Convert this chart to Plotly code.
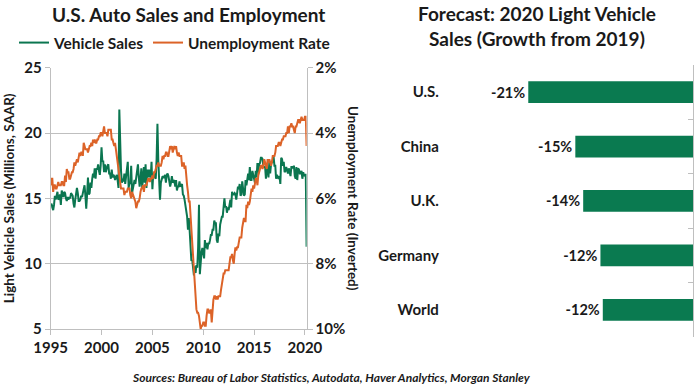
import pandas as pd
import plotly.graph_objects as go

# ---------------- data ----------------
vehicle_sales = [
    14.4, 14.6, 14.3, 14.1, 14.5, 15.2, 14.9, 15.2, 15.5, 14.9, 15.0, 15.3,  # 1995
    14.5, 15.6, 15.2, 15.1, 15.5, 15.4, 15.0, 14.8, 15.1, 14.9, 15.1, 15.0,  # 1996
    15.4, 15.3, 15.2, 14.6, 14.3, 14.9, 15.4, 15.8, 15.4, 14.8, 14.8, 14.9,  # 1997
    15.2, 15.1, 15.4, 15.7, 16.0, 15.2, 14.2, 15.3, 16.6, 15.3, 15.4, 16.2,  # 1998
    15.8, 16.5, 16.9, 16.6, 17.3, 16.5, 17.3, 17.2, 17.6, 17.1, 16.8, 17.5,  # 1999
    18.9, 17.8, 17.9, 17.0, 17.6, 17.0, 17.3, 17.5, 17.6, 16.9, 16.9, 16.5,  # 2000
    17.2, 16.6, 16.8, 16.7, 16.4, 16.6, 16.8, 16.4, 15.8, 21.8, 18.2, 17.1,  # 2001
    16.2, 16.5, 16.3, 16.9, 16.1, 16.8, 17.7, 17.8, 15.8, 16.2, 16.1, 17.5,  # 2002
    15.4, 15.8, 16.1, 16.4, 16.1, 16.5, 17.1, 17.6, 16.6, 15.9, 16.5, 17.3,  # 2003
    15.8, 16.6, 17.4, 16.2, 17.6, 15.8, 17.2, 16.6, 17.2, 16.7, 16.6, 17.8,  # 2004
    15.7, 16.9, 16.8, 16.6, 16.5, 18.0, 20.7, 17.9, 15.3, 14.9, 16.2, 16.4,  # 2005
    16.7, 16.6, 16.6, 16.8, 16.2, 16.8, 16.9, 16.7, 16.1, 15.9, 16.2, 16.7,  # 2006
    16.2, 16.4, 16.4, 15.9, 16.4, 15.6, 15.9, 15.9, 16.3, 15.9, 16.0, 16.1,  # 2007
    15.3, 15.2, 14.9, 14.5, 14.2, 13.6, 12.6, 13.5, 12.5, 10.7, 10.2, 10.3,  # 2008
    9.6, 9.1, 9.8, 9.3, 9.9, 9.7, 11.2, 14.5, 9.2, 10.4, 10.9, 11.2,        # 2009
    10.9, 10.4, 11.8, 11.2, 11.6, 11.1, 11.6, 11.5, 11.8, 12.2, 12.2, 12.6,  # 2010
    12.6, 13.3, 13.1, 13.1, 11.8, 11.6, 12.3, 12.1, 13.0, 13.3, 13.6, 13.6,  # 2011
    14.1, 15.0, 14.3, 14.4, 13.9, 14.3, 14.1, 14.5, 14.9, 14.3, 15.5, 15.3,  # 2012
    15.3, 15.4, 15.3, 14.9, 15.4, 15.9, 15.7, 16.1, 15.2, 15.3, 16.3, 15.4,  # 2013
    15.2, 15.3, 16.4, 16.0, 16.7, 16.9, 16.4, 17.4, 16.4, 16.4, 17.1, 16.8,  # 2014
    16.7, 16.2, 17.1, 16.6, 17.7, 17.0, 17.6, 17.7, 18.1, 18.1, 18.0, 17.4,  # 2015
    17.4, 17.4, 16.5, 17.3, 17.3, 16.6, 17.8, 16.9, 17.6, 17.8, 17.8, 18.2,  # 2016
    17.5, 17.5, 16.5, 16.8, 16.6, 16.5, 16.7, 16.1, 18.1, 18.0, 17.5, 17.8,  # 2017
    17.0, 17.1, 17.4, 17.1, 16.9, 17.3, 16.8, 16.7, 17.4, 17.4, 17.3, 17.5,  # 2018
    16.7, 16.5, 17.4, 16.4, 17.3, 17.2, 16.9, 16.9, 17.1, 16.5, 17.0, 16.7,  # 2019
    16.8, 16.8, 11.3,                                                        # 2020
]

unemployment_rate = [
    5.6, 5.4, 5.4, 5.8, 5.6, 5.6, 5.7, 5.7, 5.6, 5.5, 5.6, 5.6,  # 1995
    5.6, 5.5, 5.5, 5.6, 5.6, 5.3, 5.5, 5.1, 5.2, 5.2, 5.4, 5.4,  # 1996
    5.3, 5.2, 5.2, 5.1, 4.9, 5.0, 4.9, 4.8, 4.9, 4.7, 4.6, 4.7,  # 1997
    4.6, 4.6, 4.7, 4.3, 4.4, 4.5, 4.5, 4.5, 4.6, 4.5, 4.4, 4.4,  # 1998
    4.3, 4.4, 4.2, 4.3, 4.2, 4.3, 4.3, 4.2, 4.2, 4.1, 4.1, 4.0,  # 1999
    4.0, 4.1, 4.0, 3.8, 4.0, 4.0, 4.0, 4.1, 3.9, 3.9, 3.9, 3.9,  # 2000
    4.2, 4.2, 4.3, 4.4, 4.3, 4.5, 4.6, 4.9, 5.0, 5.3, 5.5, 5.7,  # 2001
    5.7, 5.7, 5.7, 5.9, 5.8, 5.8, 5.8, 5.7, 5.7, 5.7, 5.9, 6.0,  # 2002
    5.8, 5.9, 5.9, 6.0, 6.1, 6.3, 6.2, 6.1, 6.1, 6.0, 5.8, 5.7,  # 2003
    5.7, 5.6, 5.8, 5.6, 5.6, 5.6, 5.5, 5.4, 5.4, 5.5, 5.4, 5.4,  # 2004
    5.3, 5.4, 5.2, 5.2, 5.1, 5.0, 5.0, 4.9, 5.0, 5.0, 5.0, 4.9,  # 2005
    4.7, 4.8, 4.7, 4.7, 4.6, 4.6, 4.7, 4.7, 4.5, 4.4, 4.5, 4.4,  # 2006
    4.6, 4.5, 4.4, 4.5, 4.4, 4.6, 4.7, 4.6, 4.7, 4.7, 4.7, 5.0,  # 2007
    5.0, 4.9, 5.1, 5.0, 5.4, 5.6, 5.8, 6.1, 6.1, 6.5, 6.8, 7.3,  # 2008
    7.8, 8.3, 8.7, 9.0, 9.4, 9.5, 9.5, 9.6, 9.8, 10.0, 9.9, 9.9,  # 2009
    9.8, 9.8, 9.9, 9.9, 9.6, 9.4, 9.4, 9.5, 9.5, 9.4, 9.8, 9.3,  # 2010
    9.1, 9.0, 9.0, 9.1, 9.0, 9.1, 9.0, 9.0, 9.0, 8.8, 8.6, 8.5,  # 2011
    8.3, 8.3, 8.2, 8.2, 8.2, 8.2, 8.2, 8.0, 7.8, 7.8, 7.7, 7.9,  # 2012
    8.0, 7.7, 7.5, 7.6, 7.5, 7.5, 7.3, 7.2, 7.2, 7.2, 6.9, 6.7,  # 2013
    6.6, 6.7, 6.7, 6.2, 6.3, 6.1, 6.2, 6.1, 5.9, 5.7, 5.8, 5.6,  # 2014
    5.7, 5.5, 5.4, 5.4, 5.6, 5.3, 5.2, 5.1, 5.0, 5.0, 5.1, 5.0,  # 2015
    4.8, 4.9, 5.0, 5.1, 4.8, 4.9, 4.8, 4.9, 5.0, 4.9, 4.7, 4.7,  # 2016
    4.7, 4.6, 4.4, 4.4, 4.4, 4.3, 4.3, 4.4, 4.3, 4.2, 4.2, 4.1,  # 2017
    4.1, 4.1, 4.0, 4.0, 3.8, 4.0, 3.8, 3.8, 3.7, 3.8, 3.8, 3.9,  # 2018
    4.0, 3.8, 3.8, 3.7, 3.6, 3.6, 3.7, 3.6, 3.5, 3.6, 3.6, 3.6,  # 2019
    3.5, 3.5, 4.4,                                               # 2020
]

months = pd.date_range("1995-01-01", periods=len(vehicle_sales), freq="MS")
year_ticks = ["1995", "2000", "2005", "2010", "2015", "2020"]
sales_ticks = [5, 10, 15, 20, 25]
sales_grid = [10, 15, 20]
rate_ticks = [2, 4, 6, 8, 10]
rate_tick_labels = ["2%", "4%", "6%", "8%", "10%"]

countries = ["U.S.", "China", "U.K.", "Germany", "World"]
growth_2020 = [-21.0, -15.0, -14.0, -11.8, -11.5]
category_bounds = [-0.5, 0.5, 1.5, 2.5, 3.5, 4.5]

# ---------------- style ----------------
GREEN = "#0b7650"
ORANGE = "#dc6328"
BAR_GREEN = "#0a7a50"
TXT = "#1a1a1a"
GRID = "#bfbfbf"
FONT = "Lato"

fig = go.Figure()

fig.add_trace(go.Scatter(
    x=months, y=vehicle_sales, name="Vehicle Sales", mode="lines",
    line=dict(color=GREEN, width=2), xaxis="x", yaxis="y", legend="legend",
))
fig.add_trace(go.Scatter(
    x=months, y=unemployment_rate, name="Unemployment Rate", mode="lines",
    line=dict(color=ORANGE, width=2), xaxis="x", yaxis="y2", legend="legend2",
))
fig.add_trace(go.Bar(
    x=growth_2020, y=countries, orientation="h", marker_color=BAR_GREEN,
    width=0.4, texttemplate="%{x:.0f}%", textposition="outside",
    textfont=dict(family=FONT, size=14.5, color=TXT, weight="bold"),
    cliponaxis=False, showlegend=False, xaxis="x2", yaxis="y3",
))
# empty helper trace so that the right-hand boundary axis of the bar panel is drawn
fig.add_trace(go.Scatter(
    x=[], y=[], mode="lines", showlegend=False, hoverinfo="skip",
    xaxis="x2", yaxis="y4",
))

axis_font = dict(family=FONT, size=15, color=TXT, weight="bold")
legend_font = dict(family=FONT, size=15.5, color=TXT, weight="bold")

fig.update_layout(
    template="none",
    width=700, height=389,
    margin=dict(l=0, r=0, t=0, b=0, autoexpand=False),
    paper_bgcolor="white", plot_bgcolor="white",
    font=dict(family=FONT, color=TXT),
    showlegend=True,
    legend=dict(
        x=14 / 700, xanchor="left", y=1 - 43 / 389, yanchor="middle",
        font=legend_font, itemwidth=30, bgcolor="rgba(0,0,0,0)",
    ),
    legend2=dict(
        x=148 / 700, xanchor="left", y=1 - 43 / 389, yanchor="middle",
        font=legend_font, itemwidth=30, bgcolor="rgba(0,0,0,0)",
    ),
    xaxis=dict(
        domain=[0.0724, 0.438], anchor="y", type="date", automargin=False,
        range=["1995-01-01", "2020-03-01"],
        tickvals=[pd.Timestamp(f"{y}-01-01") for y in year_ticks],
        ticktext=year_ticks,
        showline=True, linecolor=GRID, linewidth=1,
        ticks="outside", ticklen=5, tickcolor=GRID,
        showgrid=False, zeroline=False, tickfont=axis_font,
    ),
    yaxis=dict(
        domain=[0.1542, 0.826], anchor="x", range=[5, 25], automargin=False,
        tickvals=sales_ticks,
        showline=True, linecolor=GRID, linewidth=1,
        ticks="outside", ticklen=5, tickcolor=GRID,
        showgrid=False, zeroline=False,
        minor=dict(tickvals=sales_grid, showgrid=True, gridcolor=GRID,
                   gridwidth=1, ticks=""),
        tickfont=axis_font,
        title=dict(text="Light Vehicle Sales (Millions, SAAR)",
                   font=dict(family=FONT, size=13.5, color=TXT, weight="bold"),
                   standoff=6),
    ),
    yaxis2=dict(
        overlaying="y", side="right", anchor="x", range=[10, 2], automargin=False,
        tickvals=rate_ticks, ticktext=rate_tick_labels,
        showline=True, linecolor=GRID, linewidth=1,
        ticks="outside", ticklen=5, tickcolor=GRID,
        showgrid=False, zeroline=False, tickfont=axis_font,
    ),
    xaxis2=dict(
        domain=[0.637, 0.99], anchor="y3", range=[-31.5, 0], automargin=False,
        visible=False,
    ),
    yaxis3=dict(
        domain=[0.1337, 0.833], anchor="x2", type="category", automargin=False,
        categoryorder="array", categoryarray=countries,
        autorange="reversed", showline=False, ticks="", showgrid=False,
        zeroline=False, tickfont=axis_font, ticklabelstandoff=6,
    ),
    yaxis4=dict(
        overlaying="y3", side="right", anchor="x2", range=[4.5, -0.5],
        automargin=False,
        tickvals=category_bounds,
        showticklabels=False, showline=True, linecolor=GRID, linewidth=1,
        ticks="inside", ticklen=5, tickcolor=GRID, showgrid=False, zeroline=False,
    ),
    annotations=[
        dict(text="U.S. Auto Sales and Employment", x=188 / 700, y=1 - 14 / 389,
             xref="paper", yref="paper", showarrow=False,
             xanchor="center", yanchor="middle",
             font=dict(family=FONT, size=19, color=TXT, weight="bold")),
        dict(text="Forecast: 2020 Light Vehicle<br>Sales (Growth from 2019)",
             x=537 / 700, y=1 - 26 / 389, xref="paper", yref="paper",
             showarrow=False, align="center", xanchor="center", yanchor="middle",
             font=dict(family=FONT, size=19, color=TXT, weight="bold")),
        dict(text="Unemployment Rate (Inverted)", x=353 / 700, y=1 - 198 / 389,
             xref="paper", yref="paper", showarrow=False, textangle=90,
             xanchor="center", yanchor="middle",
             font=dict(family=FONT, size=13.5, color=TXT, weight="bold")),
        dict(text="<i>Sources: Bureau of Labor Statistics, Autodata, Haver Analytics, Morgan Stanley</i>",
             x=331 / 700, y=1 - 377 / 389, xref="paper", yref="paper",
             showarrow=False, xanchor="center", yanchor="middle",
             font=dict(family=FONT, size=12, color=TXT, weight="bold")),
    ],
)

fig.write_html(
    "out.html",
    config={"displayModeBar": False},
    post_script="document.body.style.margin='0px';document.body.style.overflow='hidden';",
)
